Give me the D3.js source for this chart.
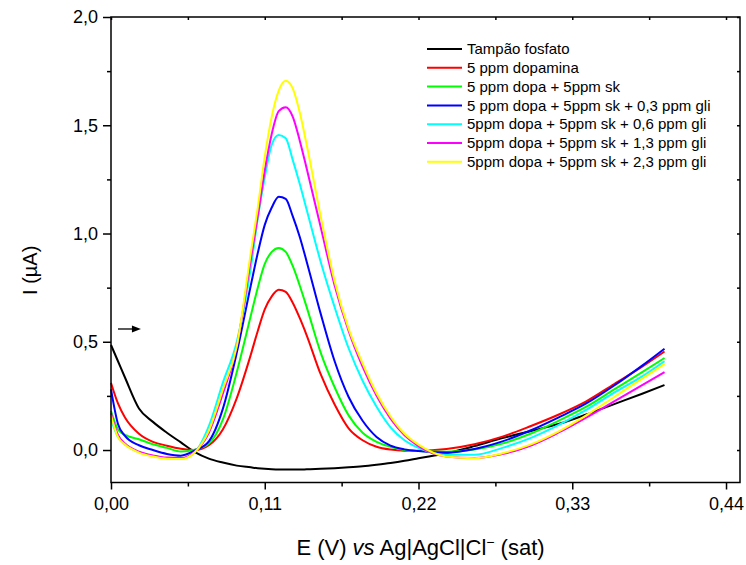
<!DOCTYPE html>
<html>
<head>
<meta charset="utf-8">
<script src="https://cdn.jsdelivr.net/npm/d3@7"></script>
<style>
  body { margin: 0; background: #fff; }
  text { font-family: "Liberation Sans", Arial, sans-serif; fill: #000; }
</style>
</head>
<body>
<div id="chart-container"></div>
<script>
// potential values (V) shared by every curve
const potential = [0, 0.005, 0.01, 0.02, 0.03, 0.04, 0.05, 0.06, 0.07, 0.08, 0.09, 0.1, 0.105, 0.11, 0.115, 0.12, 0.125, 0.13, 0.135, 0.14, 0.15, 0.16, 0.17, 0.18, 0.19, 0.2, 0.21, 0.22, 0.24, 0.26, 0.28, 0.3, 0.32, 0.34, 0.36, 0.38, 0.396]

// current (uA)
const tampao = [0.485, 0.41, 0.335, 0.192, 0.13, 0.08, 0.035, -0.01, -0.04, -0.058, -0.072, -0.08, -0.084, -0.087, -0.089, -0.09, -0.09, -0.09, -0.09, -0.089, -0.087, -0.084, -0.08, -0.075, -0.068, -0.06, -0.05, -0.038, -0.015, 0.018, 0.055, 0.087, 0.12, 0.164, 0.212, 0.26, 0.3]
const dopamina = [0.31, 0.215, 0.15, 0.075, 0.038, 0.02, 0.006, 0.0, 0.022, 0.095, 0.24, 0.44, 0.55, 0.65, 0.71, 0.74, 0.73, 0.68, 0.61, 0.53, 0.35, 0.21, 0.1, 0.045, 0.015, 0.002, -0.003, -0.003, 0.005, 0.027, 0.062, 0.11, 0.163, 0.225, 0.305, 0.385, 0.455]
const dopaSk = [0.18, 0.095, 0.07, 0.05, 0.027, 0.01, -0.007, 0.002, 0.03, 0.14, 0.36, 0.62, 0.75, 0.86, 0.915, 0.933, 0.915, 0.85, 0.76, 0.66, 0.45, 0.29, 0.16, 0.08, 0.038, 0.015, 0.0, -0.005, -0.008, 0.002, 0.03, 0.075, 0.135, 0.2, 0.28, 0.36, 0.425]
const gli03 = [0.28, 0.12, 0.065, 0.022, 0.0, -0.018, -0.026, -0.002, 0.04, 0.19, 0.45, 0.76, 0.91, 1.04, 1.12, 1.17, 1.16, 1.08, 0.985, 0.87, 0.63, 0.41, 0.245, 0.135, 0.06, 0.02, 0.003, -0.005, -0.012, 0.005, 0.04, 0.09, 0.15, 0.215, 0.298, 0.39, 0.468]
const gli06 = [0.14, 0.06, 0.025, -0.01, -0.028, -0.038, -0.04, -0.01, 0.11, 0.31, 0.5, 0.84, 1.07, 1.26, 1.41, 1.455, 1.44, 1.34, 1.23, 1.11, 0.87, 0.66, 0.47, 0.32, 0.2, 0.105, 0.045, 0.01, -0.022, -0.022, 0.01, 0.055, 0.115, 0.185, 0.265, 0.34, 0.41]
const gli13 = [0.17, 0.07, 0.03, -0.008, -0.025, -0.035, -0.037, -0.008, 0.08, 0.26, 0.48, 0.88, 1.08, 1.29, 1.46, 1.565, 1.583, 1.54, 1.43, 1.3, 1.03, 0.76, 0.55, 0.385, 0.25, 0.145, 0.068, 0.018, -0.03, -0.037, -0.018, 0.02, 0.08, 0.15, 0.225, 0.3, 0.36]
const gli23 = [0.16, 0.06, 0.025, -0.012, -0.03, -0.04, -0.042, -0.01, 0.09, 0.28, 0.48, 0.91, 1.12, 1.355, 1.54, 1.66, 1.705, 1.67, 1.56, 1.41, 1.08, 0.78, 0.56, 0.4, 0.262, 0.155, 0.075, 0.025, -0.03, -0.038, -0.015, 0.025, 0.085, 0.16, 0.245, 0.33, 0.397]

const seriesNames = ["Tampão fosfato", "5 ppm dopamina", "5 ppm dopa + 5ppm sk", "5 ppm dopa + 5ppm sk + 0,3 ppm gli", "5ppm dopa + 5ppm sk + 0,6 ppm gli", "5ppm dopa + 5ppm sk + 1,3 ppm gli", "5ppm dopa + 5ppm sk + 2,3 ppm gli"]
const seriesValues = [tampao, dopamina, dopaSk, gli03, gli06, gli13, gli23]
const seriesColors = ["#000000", "#ff0000", "#00ff00", "#0000ff", "#00ffff", "#ff00ff", "#ffff00"]

const xTicks = [0, 0.11, 0.22, 0.33, 0.44]
const xMinor = [0.055, 0.165, 0.275, 0.385]
const yTicks = [0, 0.5, 1.0, 1.5, 2.0]
const yMinor = [0.25, 0.75, 1.25, 1.75]

const margin = { top: 17, right: 6, bottom: 82.5, left: 111 }
const width = 746 - margin.left - margin.right
const height = 565 - margin.top - margin.bottom

const svg = d3.select("#chart-container")
  .append("svg")
  .attr("width", width + margin.left + margin.right)
  .attr("height", height + margin.top + margin.bottom)
  .append("g")
  .attr("transform", `translate(${margin.left},${margin.top})`)

const x = d3.scaleLinear().domain([0, 0.45]).range([0, width])
const y = d3.scaleLinear().domain([-0.15, 2.0]).range([height, 0])

const comma = f => d => d3.format(f)(d).replace(".", ",")

// curves
const line = d3.line()
  .x(d => x(d[0]))
  .y(d => y(d[1]))
  .curve(d3.curveMonotoneX)

svg.selectAll(".curve")
  .data(seriesValues)
  .enter().append("path")
  .attr("class", "curve")
  .attr("fill", "none")
  .attr("stroke", (d, i) => seriesColors[i])
  .attr("stroke-width", 2)
  .attr("d", vals => line(potential.map((p, i) => [p, vals[i]])))

// frame
svg.append("rect")
  .attr("width", width)
  .attr("height", height)
  .attr("fill", "none")
  .attr("stroke", "#000")
  .attr("stroke-width", 1.5)

// x axis
svg.append("g")
  .attr("transform", `translate(0,${height})`)
  .call(d3.axisBottom(x).tickValues(xTicks).tickSize(7).tickPadding(8).tickFormat(comma(".2f")))
svg.append("g")
  .attr("transform", `translate(0,${height})`)
  .call(d3.axisBottom(x).tickValues(xMinor).tickSize(4).tickFormat(""))
svg.append("g")
  .call(d3.axisTop(x).tickValues(xTicks.concat(xMinor)).tickSize(-3).tickFormat(""))

// y axis
svg.append("g")
  .call(d3.axisLeft(y).tickValues(yTicks).tickSize(8).tickPadding(5).tickFormat(comma(".1f")))
svg.append("g")
  .call(d3.axisLeft(y).tickValues(yMinor).tickSize(4).tickFormat(""))
svg.append("g")
  .attr("transform", `translate(${width},0)`)
  .call(d3.axisRight(y).tickValues(yTicks.concat(yMinor)).tickSize(-3).tickFormat(""))

svg.selectAll(".domain").remove()
svg.selectAll(".tick line").attr("stroke", "#000").attr("stroke-width", 1.5)
svg.selectAll(".tick text").style("font-size", "18px").style("font-family", '"Liberation Sans", Arial, sans-serif')

// axis titles
const xTitle = svg.append("text")
  .attr("x", x(0.225) - 5)
  .attr("y", height + 72)
  .attr("text-anchor", "middle")
  .style("font-size", "22px")
xTitle.append("tspan").text("E (V) ")
xTitle.append("tspan").style("font-style", "italic").text("vs")
xTitle.append("tspan").text(" Ag|AgCl|Cl")
xTitle.append("tspan").attr("dy", -8).style("font-size", "14px").text("\u2212")
xTitle.append("tspan").attr("dy", 8).text(" (sat)")

svg.append("text")
  .attr("transform", "rotate(-90)")
  .attr("x", 0 - y(0.83))
  .attr("y", 30 - margin.left)
  .attr("dy", "0.35em")
  .attr("text-anchor", "middle")
  .style("font-size", "20px")
  .text("I (\u00b5A)")

// scan direction arrow
svg.append("line")
  .attr("x1", x(0.005)).attr("x2", x(0.016))
  .attr("y1", y(0.559)).attr("y2", y(0.559))
  .attr("stroke", "#000").attr("stroke-width", 1.3)
svg.append("path")
  .attr("d", `M${x(0.0214)},${y(0.559)} l-9,-3.5 l0,7 z`)
  .attr("fill", "#000")

// legend
const legend = svg.selectAll(".legend")
  .data(seriesNames)
  .enter().append("g")
  .attr("class", "legend")
  .attr("transform", (d, i) => `translate(${427 - margin.left},${49 - margin.top + i * 18.8})`)

legend.append("line")
  .attr("x1", 0).attr("x2", 35)
  .attr("stroke", (d, i) => seriesColors[i])
  .attr("stroke-width", 2)

legend.append("text")
  .attr("x", 40)
  .attr("dy", "0.35em")
  .style("font-size", "15px")
  .text(d => d)
</script>
</body>
</html>
